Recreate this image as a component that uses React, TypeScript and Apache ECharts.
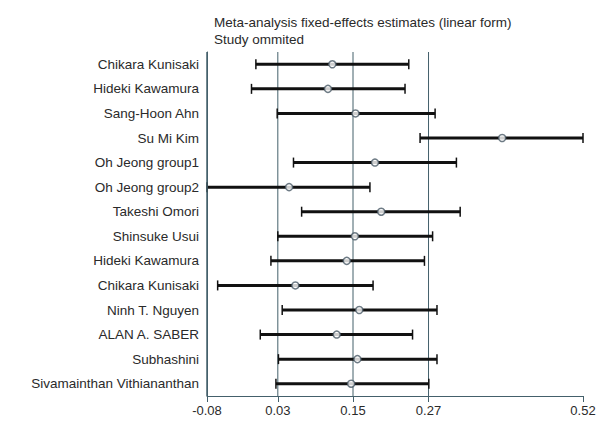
import React, { useEffect, useRef } from "react";
import * as echarts from "echarts";

const studies = [
  "Chikara Kunisaki",
  "Hideki Kawamura",
  "Sang-Hoon Ahn",
  "Su Mi Kim",
  "Oh Jeong group1",
  "Oh Jeong group2",
  "Takeshi Omori",
  "Shinsuke Usui",
  "Hideki Kawamura",
  "Chikara Kunisaki",
  "Ninh T. Nguyen",
  "ALAN A. SABER",
  "Subhashini",
  "Sivamainthan Vithiananthan",
];
const estimates = [0.12, 0.113, 0.157, 0.391, 0.188, 0.051, 0.198, 0.156, 0.143, 0.061, 0.163, 0.127, 0.16, 0.15];
const lowerCI = [-0.002, -0.009, 0.032, 0.26, 0.058, -0.08, 0.071, 0.033, 0.022, -0.063, 0.04, 0.005, 0.034, 0.03];
const upperCI = [0.242, 0.236, 0.284, 0.52, 0.318, 0.18, 0.324, 0.28, 0.267, 0.185, 0.287, 0.248, 0.287, 0.274];
const tickValues = [-0.08, 0.033, 0.153, 0.2735, 0.52];
const refLines = [0.033, 0.153, 0.2735];
const axisMin = -0.08;
const axisMax = 0.52;
const titleLines = ["Meta-analysis fixed-effects estimates (linear form)", "Study ommited"];

const FONT = "'Liberation Sans', Arial, sans-serif";
const AXIS_COLOR = "#44606b";
const TEXT_COLOR = "#2a2a2a";

export default function App() {
  const ref = useRef<HTMLDivElement>(null);
  useEffect(() => {
    document.body.style.margin = "0";
    if (!ref.current) return;
    const chart = echarts.init(ref.current, undefined, { renderer: "svg" });
    const barData = studies.map((_, i) => [lowerCI[i], upperCI[i], i]);
    const pointData = studies.map((_, i) => [estimates[i], i]);
    const lineData = refLines.map((v) => [v, 0]);
    chart.setOption({
      animation: false,
      backgroundColor: "#ffffff",
      textStyle: { fontFamily: FONT },
      title: {
        text: titleLines.join("\n"),
        left: 209,
        top: 9,
        textStyle: { fontFamily: FONT, fontSize: 13.5, fontWeight: "normal", color: TEXT_COLOR, lineHeight: 17 },
      },
      grid: { left: 207, right: 24, top: 52, bottom: 26 },
      xAxis: {
        type: "value",
        min: axisMin,
        max: axisMax,
        splitLine: { show: false },
        axisLine: { show: true, lineStyle: { color: AXIS_COLOR, width: 1 } },
        axisTick: { show: true, length: 6, customValues: tickValues, lineStyle: { color: AXIS_COLOR } },
        axisLabel: {
          customValues: tickValues,
          formatter: (v: number) => v.toFixed(2),
          fontSize: 13,
          color: TEXT_COLOR,
          fontFamily: FONT,
          margin: 8,
          showMinLabel: true,
          showMaxLabel: true,
        },
      },
      yAxis: {
        type: "category",
        inverse: true,
        data: studies,
        axisLine: { show: true, onZero: false, lineStyle: { color: AXIS_COLOR, width: 1 } },
        axisTick: { show: false },
        splitLine: { show: false },
        axisLabel: { fontSize: 13.5, color: TEXT_COLOR, fontFamily: FONT, margin: 8, interval: 0 },
      },
      series: [
        {
          type: "custom",
          z: 1,
          silent: true,
          encode: { x: 0, y: 1 },
          data: lineData,
          renderItem: (params: any, api: any) => {
            const cs = params.coordSys;
            const x = api.coord([api.value(0), 0])[0];
            return {
              type: "line",
              shape: { x1: x, y1: cs.y, x2: x, y2: cs.y + cs.height },
              style: { stroke: AXIS_COLOR, lineWidth: 1 },
            };
          },
        },
        {
          type: "custom",
          z: 3,
          encode: { x: [0, 1], y: 2 },
          data: barData,
          renderItem: (params: any, api: any) => {
            const lo = api.coord([api.value(0), api.value(2)]);
            const hi = api.coord([api.value(1), api.value(2)]);
            const h = 5;
            const st = { stroke: "#111111", lineWidth: 3 };
            const cap = { stroke: "#111111", lineWidth: 1.5 };
            return {
              type: "group",
              children: [
                { type: "line", shape: { x1: lo[0], y1: lo[1], x2: hi[0], y2: hi[1] }, style: st },
                { type: "line", shape: { x1: lo[0], y1: lo[1] - h, x2: lo[0], y2: lo[1] + h }, style: cap },
                { type: "line", shape: { x1: hi[0], y1: hi[1] - h, x2: hi[0], y2: hi[1] + h }, style: cap },
              ],
            };
          },
        },
        {
          type: "scatter",
          z: 4,
          data: pointData,
          symbol: "circle",
          symbolSize: 7,
          itemStyle: { color: "#ffffff", borderColor: "#4a5a66", borderWidth: 1.5 },
        },
      ],
    });
    // left boundary of the plot, placed through the library's own scale
    const top = chart.convertToPixel({ gridIndex: 0 }, [axisMin, 0]);
    const bottom = chart.convertToPixel({ gridIndex: 0 }, [axisMin, studies.length - 1]);
    const half = (bottom[1] - top[1]) / (2 * (studies.length - 1));
    const yTop = top[1] - half;
    const yBottom = bottom[1] + half;
    chart.setOption({
      graphic: [
        {
          type: "rect",
          z: 100,
          silent: true,
          shape: { x: top[0] - 0.75, y: yTop, width: 1.5, height: yBottom - yTop },
          style: { fill: AXIS_COLOR },
        },
      ],
    });
    return () => chart.dispose();
  }, []);
  return <div ref={ref} style={{ position: "fixed", left: 0, top: 0, width: 607, height: 422 }} />;
}
